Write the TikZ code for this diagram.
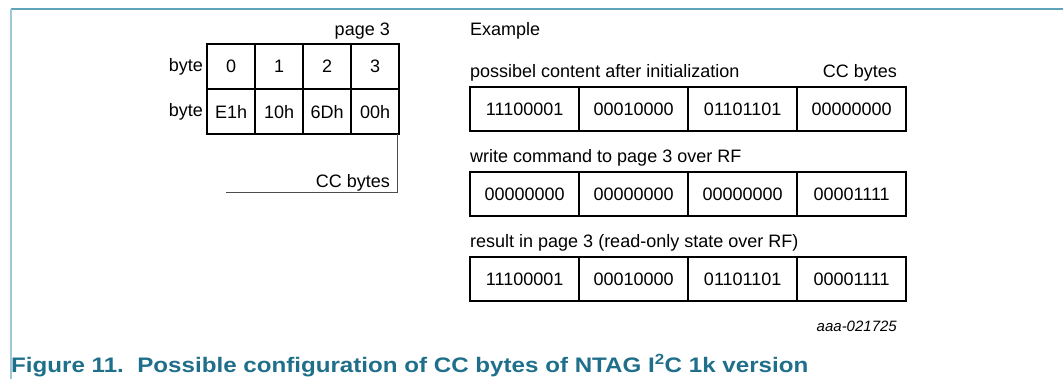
\documentclass[tikz,border=0pt]{standalone}
\usepackage{fontspec}
\setmainfont{Liberation Sans}
\newfontfamily\capfont{Liberation Sans}[FakeStretch=1.15]
\usepackage{tikz}
\usetikzlibrary{matrix,positioning}
\definecolor{nxpteal}{HTML}{1F6F8B}
\definecolor{nxpframe}{HTML}{5FA3BB}
\tikzset{
	cell/.style={draw, line width=2pt, inner sep=0pt, outer sep=0pt, font=\fontsize{18}{21}\selectfont},
	txt/.style={inner sep=0pt, font=\fontsize{18}{21}\selectfont},
	bytes/.style={matrix of nodes, inner sep=0pt, column sep=-2pt, anchor=north west}
}

\begin{document}
\begin{tikzpicture}[x=1pt, y=-1pt]
\useasboundingbox (0,0) rectangle (1063,379);
\draw[nxpframe, line width=2pt] (1063,9.5) -- (11,9.5);
\draw[nxpframe!60, line width=1.5pt] (11,9.5) -- (11,379);

\matrix (pg) [bytes, row sep=-2pt, nodes={cell, minimum width=48pt, minimum height=45pt}] at (206,43)
{
	0 & 1 & 2 & 3 \\
	E1h & 10h & 6Dh & 00h \\
};
\node[txt, left=4pt of pg-1-1] (bt1) {byte};
\node[txt, left=4pt of pg-2-1] (bt2) {byte};
\node[txt, anchor=base east] (pgl) at (390,36) {page 3};
\node[txt, anchor=base east] (ccl) at (390,188) {CC bytes};
\coordinate (cctop) at (397,134);
\coordinate (ccend) at (226,193);
\draw[line width=1pt, black!70] (cctop) |- (ccend);

\node[txt, anchor=base west] (ex) at (470,36) {Example};

\node[txt, anchor=base west] (initl) at (470,78) {possibel content after initialization};
\node[txt, anchor=base east] (ccr) at (897,78) {CC bytes};
\matrix (init) [bytes, nodes={cell, minimum width=109pt, minimum height=44pt}] at (469,86)
{
	11100001 & 00010000 & 01101101 & 00000000 \\
};

\node[txt, anchor=base west] (wcmdl) at (470,163) {write command to page 3 over RF};
\matrix (wcmd) [bytes, nodes={cell, minimum width=109pt, minimum height=44pt}] at (469,171)
{
	00000000 & 00000000 & 00000000 & 00001111 \\
};

\node[txt, anchor=base west] (resl) at (470,248) {result in page 3 (read-only state over RF)};
\matrix (res) [bytes, nodes={cell, minimum width=109pt, minimum height=44pt}] at (469,256)
{
	11100001 & 00010000 & 01101101 & 00001111 \\
};

\node[inner sep=0pt, anchor=base east, font=\fontsize{15}{18}\selectfont\itshape] (fig) at (897,331) {aaa-021725};
\node[inner sep=0pt, anchor=base west, text=nxpteal, font=\fontsize{21}{25}\selectfont\capfont\bfseries] (cap) at (11,372)
	{Figure 11.\ \ Possible configuration of CC bytes of NTAG I\textsuperscript{2}C 1k version};
\end{tikzpicture}
\end{document}
